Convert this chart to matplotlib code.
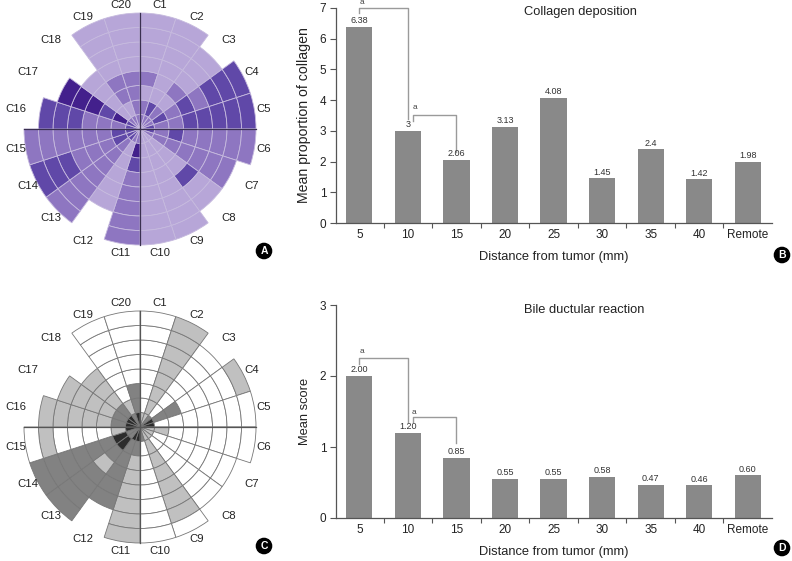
import numpy as np
import matplotlib.pyplot as plt
from matplotlib.ticker import FixedLocator

plt.rcParams['font.family'] = ['Liberation Sans', 'DejaVu Sans']

# 20 segments, rings go from 5 mm (inner) to 40 mm (outer)
sectors = ['C%d' % i for i in range(1, 21)]

# collagen grade per ring: 0 light .. 3 darkest
collagen_grid = [
    [1, 1, 0, 1, 0, 0, 0, 0],  # C1
    [1, 2, 0, 0, 0, 0, 0, 0],  # C2
    [1, 1, 0, 1, 0, 0, 0],     # C3
    [1, 2, 1, 2, 1, 2, 2, 2],  # C4
    [2, 1, 1, 2, 2, 2, 2, 2],  # C5
    [2, 1, 2, 1, 1, 1, 1, 1],  # C6
    [1, 1, 1, 1, 1, 1, 1],     # C7
    [0, 0, 0, 0, 2, 0, 0],     # C8
    [0, 0, 0, 0, 0, 0, 0, 0],  # C9
    [0, 0, 0, 0, 0, 0, 0, 0],  # C10
    [1, 3, 2, 1, 1, 1, 1, 1],  # C11
    [1, 0, 0, 0, 0, 0],        # C12
    [2, 1, 1, 1, 1, 1, 1, 1],  # C13
    [2, 2, 1, 1, 1, 2, 2, 2],  # C14
    [2, 2, 1, 1, 1, 1, 1, 1],  # C15
    [2, 1, 1, 1, 2, 2, 2],     # C16
    [2, 3, 2, 3, 3, 3],        # C17
    [1, 0, 0, 0, 0],           # C18
    [1, 0, 1, 1, 0, 0, 0, 0],  # C19
    [1, 1, 1, 1, 0, 0, 0, 0],  # C20
]

# bile ductular reaction score per ring: 0 .. 3
bile_grid = [
    [1, 0, 0, 0, 0, 0, 0, 0],  # C1
    [1, 1, 1, 1, 1, 1, 1, 1],  # C2
    [2, 0, 0, 0, 0, 0, 0],     # C3
    [3, 2, 2, 0, 0, 0, 0, 1],  # C4
    [3, 0, 0, 0, 0, 0, 0, 0],  # C5
    [1, 1, 0, 0, 0, 0, 0, 0],  # C6
    [1, 0, 0, 0, 0, 0, 0],     # C7
    [1, 0, 0, 0, 0, 0, 0],     # C8
    [1, 1, 1, 1, 1, 1, 1, 0],  # C9
    [2, 0, 0, 0, 0, 0, 0, 0],  # C10
    [3, 2, 1, 1, 1, 1, 1, 1],  # C11
    [3, 2, 2, 2, 2, 2],        # C12
    [2, 3, 2, 1, 2, 2, 2, 2],  # C13
    [2, 3, 2, 2, 2, 2, 2, 2],  # C14
    [3, 1, 0, 0, 0, 0, 1, 0],  # C15
    [3, 2, 1, 1, 1, 1, 1],     # C16
    [3, 2, 1, 1, 1, 1],        # C17
    [3, 2, 1, 1, 1],           # C18
    [2, 1, 0, 0, 0, 0, 0, 0],  # C19
    [3, 2, 2, 0, 0, 0, 0, 0],  # C20
]

distances = ['5', '10', '15', '20', '25', '30', '35', '40', 'Remote']
collagen = [6.38, 3, 2.06, 3.13, 4.08, 1.45, 2.4, 1.42, 1.98]
collagen_labels = ['6.38', '3', '2.06', '3.13', '4.08', '1.45', '2.4', '1.42', '1.98']
bile = [2.00, 1.20, 0.85, 0.55, 0.55, 0.58, 0.47, 0.46, 0.60]
bile_labels = ['2.00', '1.20', '0.85', '0.55', '0.55', '0.58', '0.47', '0.46', '0.60']

purples = ['#b7a6d8', '#8e76c1', '#6048a8', '#43208c']
grays = ['#ffffff', '#c0c0c0', '#828282', '#2c2c2c']

W, H = 792, 561


def px_box(x0, y0, x1, y1):
    # pixel box (top-left origin) -> figure fraction
    return [x0 / W, 1 - y1 / H, (x1 - x0) / W, (y1 - y0) / H]


def rose(ax, grid, colors, edge, axis_col):
    step = 2 * np.pi / len(grid)
    for i, rings in enumerate(grid):
        theta = (i + 0.5) * step
        for r, level in enumerate(rings):
            ax.bar(theta, 1, width=step, bottom=r, color=colors[level],
                   edgecolor=edge, linewidth=0.6, clip_on=False)
        ax.text(theta, 8.65, sectors[i], ha='center', va='center',
                fontsize=8.2, color='#222222')
    for ang in [0, np.pi / 2, np.pi, 1.5 * np.pi]:
        ax.plot([ang, ang], [0, 8], color=axis_col, lw=0.9, clip_on=False)
    ax.set_theta_zero_location('N')
    ax.set_theta_direction(-1)
    ax.set_ylim(0, 8)
    ax.axis('off')


def bar_panel(ax, values, labels, ymax, ylabel, ysize, title, title_xy, brackets, a_marks):
    x = np.arange(len(distances))
    ax.bar(x, values, width=0.54, color='#898989')
    for xi, v, lab in zip(x, values, labels):
        ax.text(xi, v + ymax * 0.008, lab, ha='center', va='bottom',
                fontsize=6.5, color='#333333')
    for pts in brackets:
        xs, ys = zip(*pts)
        ax.plot(xs, ys, color='#9a9a9a', lw=1.0, clip_on=False)
    for ax_, ay in a_marks:
        ax.text(ax_, ay, 'a', ha='center', va='center', fontsize=6, color='#444444')
    ax.set_xlim(-0.48, 8.5)
    ax.set_ylim(0, ymax)
    ax.set_yticks(range(ymax + 1))
    ax.set_xticks(x)
    ax.set_xticklabels(distances)
    ax.xaxis.set_minor_locator(FixedLocator(np.arange(0.5, 8, 1)))
    ax.tick_params(axis='x', which='major', length=0, pad=4.5, labelsize=8.5, colors='#222222')
    ax.tick_params(axis='x', which='minor', length=3.5, width=0.8, direction='out', color='#555555')
    ax.tick_params(axis='y', length=4, width=0.8, direction='out', pad=3,
                   labelsize=8.5, color='#555555', labelcolor='#222222')
    for s in ['top', 'right']:
        ax.spines[s].set_visible(False)
    for s in ['left', 'bottom']:
        ax.spines[s].set_color('#555555')
        ax.spines[s].set_linewidth(0.9)
    ax.set_xlabel('Distance from tumor (mm)', fontsize=9.3, labelpad=7, color='#222222')
    ax.set_ylabel(ylabel, fontsize=ysize, labelpad=6, color='#222222')
    ax.text(title_xy[0], title_xy[1], title, transform=ax.transAxes,
            ha='center', va='center', fontsize=9.3, color='#222222')


fig = plt.figure(figsize=(W / 100, H / 100), dpi=100)

axA = fig.add_axes(px_box(24, 13, 256, 245), projection='polar')
rose(axA, collagen_grid, purples, '#c6bade', '#3a3050')

axC = fig.add_axes(px_box(24, 311, 256, 543), projection='polar')
rose(axC, bile_grid, grays, '#777777', '#555555')

axB = fig.add_axes(px_box(336, 8, 772, 223))
bar_panel(axB, collagen, collagen_labels, 7, 'Mean proportion of collagen', 10.2,
          'Collagen deposition', (0.56, 0.98),
          [[(0, 6.84), (0, 7.0), (1, 7.0), (1, 3.38)],
           [(1.1, 3.33), (1.1, 3.52), (2, 3.52), (2, 2.32)]],
          [(0.05, 7.18), (1.15, 3.77)])

axD = fig.add_axes(px_box(336, 305, 772, 518))
bar_panel(axD, bile, bile_labels, 3, 'Mean score', 9.3,
          'Bile ductular reaction', (0.569, 0.977),
          [[(0, 2.17), (0, 2.25), (1, 2.25), (1, 1.35)],
           [(1.1, 1.35), (1.1, 1.42), (2, 1.42), (2, 1.05)]],
          [(0.05, 2.34), (1.12, 1.49)])

# panel letters
for letter, (px, py) in zip('ABCD', [(264, 251), (782, 255), (264, 546), (782, 548)]):
    fig.text(px / W, 1 - py / H, letter, ha='center', va='center', fontsize=7.5,
             fontweight='bold', color='white',
             bbox=dict(boxstyle='circle,pad=0.25', fc='black', ec='black'))

fig.savefig('out.png', dpi=100)
